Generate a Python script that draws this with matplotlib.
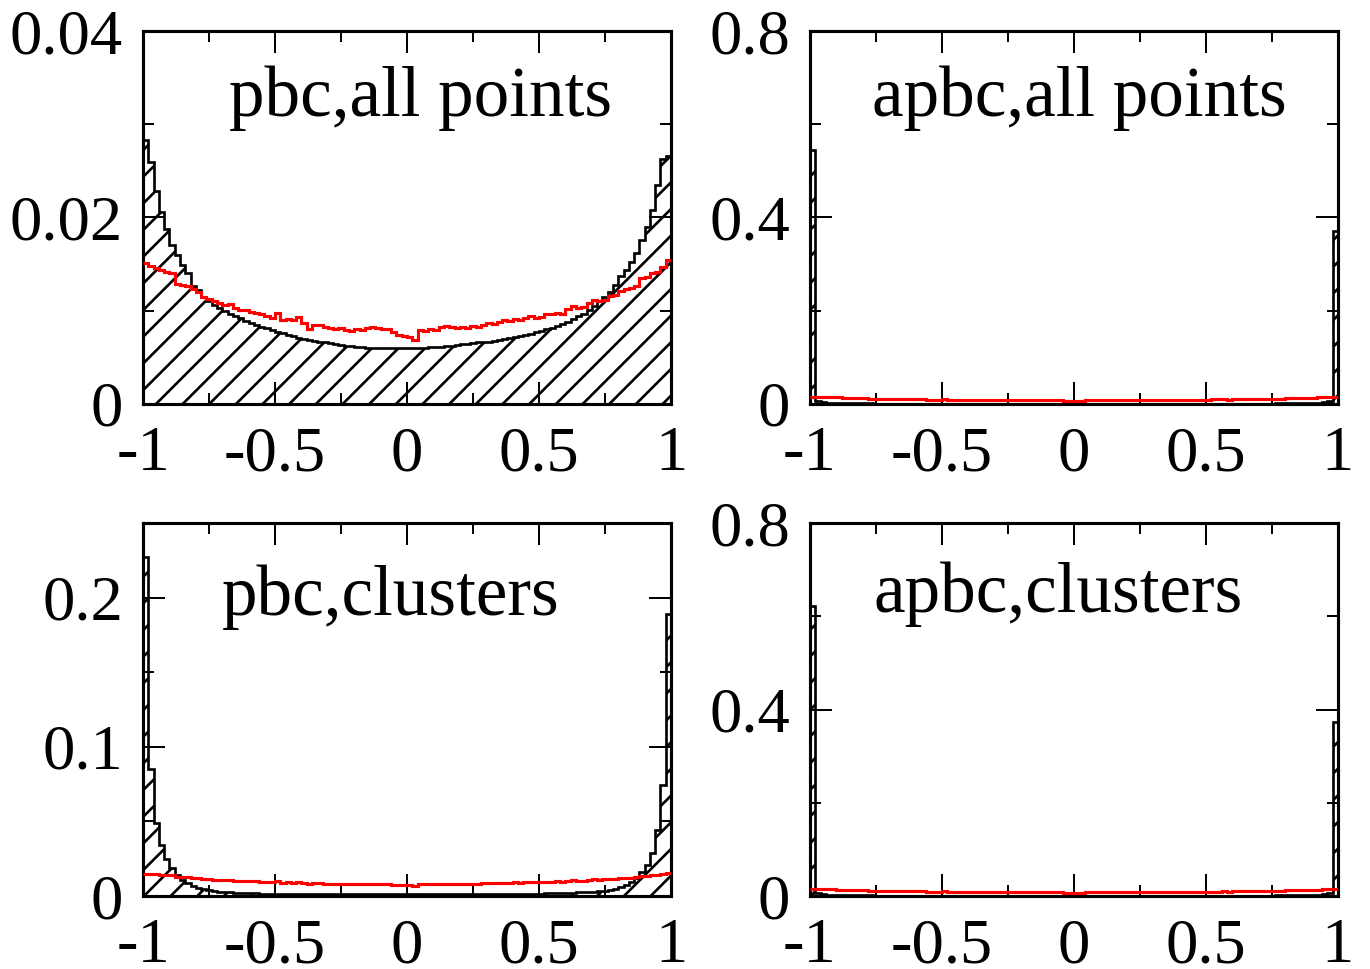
import numpy as np
import matplotlib
matplotlib.use("Agg")
import matplotlib.pyplot as plt
from matplotlib.ticker import MultipleLocator

# ---- data: 100 bins on [-1, 1] ----
bin_edges = np.linspace(-1, 1, 101)

pbc_all = [
    0.0283, 0.0259, 0.0228, 0.0206, 0.0188, 0.0171, 0.0160, 0.0149, 0.0140, 0.0126,
    0.0122, 0.0115, 0.0110, 0.0106, 0.0103, 0.0100, 0.0097, 0.0094, 0.0092, 0.0089,
    0.0087, 0.0085, 0.0083, 0.0081, 0.0079, 0.0077, 0.0076, 0.0074, 0.0073, 0.0071,
    0.0070, 0.0069, 0.0068, 0.0067, 0.0066, 0.0065, 0.0064, 0.0063, 0.0062, 0.0062,
    0.0061, 0.0061, 0.0060, 0.0060, 0.0060, 0.0060, 0.0060, 0.0060, 0.0060, 0.0060,
    0.0060, 0.0060, 0.0060, 0.0060, 0.0061, 0.0061, 0.0061, 0.0062, 0.0062, 0.0063,
    0.0064, 0.0064, 0.0065, 0.0066, 0.0066, 0.0067, 0.0068, 0.0069, 0.0070, 0.0071,
    0.0072, 0.0073, 0.0074, 0.0075, 0.0077, 0.0078, 0.0080, 0.0082, 0.0084, 0.0086,
    0.0088, 0.0091, 0.0094, 0.0097, 0.0101, 0.0105, 0.0110, 0.0115, 0.0120, 0.0128,
    0.0137, 0.0144, 0.0152, 0.0162, 0.0176, 0.0190, 0.0208, 0.0235, 0.0263, 0.0266,
]

# red reference curve (same in all panels)
red_ref = [
    0.0151, 0.0148, 0.0146, 0.0144, 0.0142, 0.0140, 0.0129, 0.0128, 0.0126, 0.0123,
    0.0120, 0.0115, 0.0113, 0.0110, 0.0108, 0.0106, 0.0107, 0.0103, 0.0101, 0.0101,
    0.0099, 0.0098, 0.0096, 0.0094, 0.0092, 0.0098, 0.0090, 0.0091, 0.0090, 0.0093,
    0.0087, 0.0080, 0.0085, 0.0085, 0.0083, 0.0082, 0.0080, 0.0081, 0.0079, 0.0078,
    0.0080, 0.0079, 0.0081, 0.0083, 0.0081, 0.0080, 0.0080, 0.0077, 0.0074, 0.0073,
    0.0072, 0.0069, 0.0079, 0.0078, 0.0080, 0.0079, 0.0083, 0.0084, 0.0083, 0.0082,
    0.0083, 0.0082, 0.0084, 0.0083, 0.0085, 0.0087, 0.0086, 0.0088, 0.0090, 0.0089,
    0.0091, 0.0090, 0.0092, 0.0094, 0.0092, 0.0093, 0.0097, 0.0097, 0.0098, 0.0096,
    0.0102, 0.0105, 0.0103, 0.0104, 0.0108, 0.0112, 0.0110, 0.0111, 0.0116, 0.0117,
    0.0121, 0.0123, 0.0124, 0.0126, 0.0135, 0.0136, 0.0140, 0.0142, 0.0147, 0.0154,
]

apbc_all = [
    0.545, 0.006, 0.004, 0.003, 0.003, 0.002, 0.002, 0.002, 0.002, 0.002,
    0.002, 0.002, 0.001, 0.001, 0.001, 0.001, 0.001, 0.001, 0.001, 0.001,
    0.001, 0.001, 0.001, 0.001, 0.001, 0.001, 0.001, 0.001, 0.001, 0.001,
    0.001, 0.001, 0.001, 0.001, 0.001, 0.001, 0.001, 0.001, 0.001, 0.001,
    0.001, 0.001, 0.001, 0.001, 0.001, 0.001, 0.001, 0.001, 0.001, 0.001,
    0.001, 0.001, 0.001, 0.001, 0.001, 0.001, 0.001, 0.001, 0.001, 0.001,
    0.001, 0.001, 0.001, 0.001, 0.001, 0.001, 0.001, 0.001, 0.001, 0.001,
    0.001, 0.001, 0.001, 0.001, 0.001, 0.001, 0.001, 0.001, 0.001, 0.001,
    0.001, 0.001, 0.001, 0.001, 0.001, 0.001, 0.001, 0.001, 0.002, 0.002,
    0.002, 0.002, 0.002, 0.002, 0.002, 0.003, 0.003, 0.004, 0.006, 0.370,
]

pbc_clusters = [
    0.227, 0.085, 0.049, 0.034, 0.025, 0.019, 0.014, 0.011, 0.0085, 0.007,
    0.0055, 0.0045, 0.004, 0.0035, 0.003, 0.0027, 0.0024, 0.0022, 0.002, 0.0019,
    0.0018, 0.0017, 0.0016, 0.0015, 0.0015, 0.0014, 0.0014, 0.0013, 0.0013, 0.0013,
    0.0012, 0.0012, 0.0012, 0.0012, 0.0012, 0.0012, 0.0012, 0.0012, 0.0012, 0.0012,
    0.0012, 0.0012, 0.0012, 0.0011, 0.0011, 0.0011, 0.0011, 0.0011, 0.0011, 0.0011,
    0.0011, 0.0011, 0.0011, 0.0011, 0.0011, 0.0011, 0.0011, 0.0012, 0.0012, 0.0012,
    0.0012, 0.0012, 0.0012, 0.0012, 0.0012, 0.0012, 0.0012, 0.0012, 0.0012, 0.0012,
    0.0013, 0.0013, 0.0014, 0.0014, 0.0015, 0.0016, 0.0017, 0.0018, 0.0019, 0.0020,
    0.0021, 0.0022, 0.0024, 0.0026, 0.0028, 0.0030, 0.0033, 0.0036, 0.0042, 0.0050,
    0.0060, 0.0075, 0.0095, 0.012, 0.0163, 0.021, 0.0286, 0.044, 0.0745, 0.189,
]

apbc_clusters = [
    0.622, 0.006, 0.004, 0.003, 0.003, 0.002, 0.002, 0.002, 0.002, 0.002,
    0.002, 0.002, 0.001, 0.001, 0.001, 0.001, 0.001, 0.001, 0.001, 0.001,
    0.001, 0.001, 0.001, 0.001, 0.001, 0.001, 0.001, 0.001, 0.001, 0.001,
    0.001, 0.001, 0.001, 0.001, 0.001, 0.001, 0.001, 0.001, 0.001, 0.001,
    0.001, 0.001, 0.001, 0.001, 0.001, 0.001, 0.001, 0.001, 0.001, 0.001,
    0.001, 0.001, 0.001, 0.001, 0.001, 0.001, 0.001, 0.001, 0.001, 0.001,
    0.001, 0.001, 0.001, 0.001, 0.001, 0.001, 0.001, 0.001, 0.001, 0.001,
    0.001, 0.001, 0.001, 0.001, 0.001, 0.001, 0.001, 0.001, 0.001, 0.001,
    0.001, 0.001, 0.001, 0.001, 0.001, 0.001, 0.001, 0.001, 0.002, 0.002,
    0.002, 0.002, 0.002, 0.002, 0.002, 0.003, 0.003, 0.004, 0.006, 0.373,
]

panel_titles = ["pbc,all points", "apbc,all points", "pbc,clusters", "apbc,clusters"]
panel_data = [pbc_all, apbc_all, pbc_clusters, apbc_clusters]
x_ticks = [-1, -0.5, 0, 0.5, 1]
x_labels = ["-1", "-0.5", "0", "0.5", "1"]
y_ticks = [[0, 0.02, 0.04], [0, 0.4, 0.8], [0, 0.1, 0.2], [0, 0.4, 0.8]]
y_labels = [["0", "0.02", "0.04"], ["0", "0.4", "0.8"], ["0", "0.1", "0.2"], ["0", "0.4", "0.8"]]
y_max = [0.04, 0.8, 0.25, 0.8]

# ---- style ----
plt.rcParams["font.family"] = ["Liberation Serif", "DejaVu Serif"]
plt.rcParams["axes.unicode_minus"] = False
plt.rcParams["hatch.linewidth"] = 1.2

DPI = 160
fig = plt.figure(figsize=(1370 / DPI, 969 / DPI), dpi=DPI)

# axes boxes in figure fraction
lefts = [0.1044, 0.5912, 0.1044, 0.5912]
bottoms = [0.5831, 0.5831, 0.0753, 0.0753]
w, h = 0.3854, 0.3849
title_pos = [(0.525, 0.82), (0.51, 0.82), (0.47, 0.80), (0.47, 0.81)]

for i in range(4):
    ax = fig.add_axes([lefts[i], bottoms[i], w, h])
    vals = panel_data[i]
    ax.stairs(vals, bin_edges, fill=True, facecolor="white", edgecolor="black",
              hatch="//", linewidth=0, zorder=1)
    ax.stairs(vals, bin_edges, color="black", linewidth=1.2, zorder=2)
    ax.stairs(red_ref, bin_edges, baseline=None, color="red", linewidth=1.4, zorder=3)

    ax.set_xlim(-1, 1)
    ax.set_ylim(0, y_max[i])
    ax.set_xticks(x_ticks)
    ax.set_xticklabels(x_labels)
    ax.set_yticks(y_ticks[i])
    ax.set_yticklabels(y_labels[i])
    ax.xaxis.set_minor_locator(MultipleLocator(0.25))
    ax.yaxis.set_minor_locator(MultipleLocator(y_ticks[i][1] / 2))
    ax.tick_params(which="both", direction="in", top=True, right=True,
                   labelsize=29, width=0.9)
    ax.tick_params(which="major", length=10)
    ax.tick_params(which="minor", length=5)
    ax.tick_params(axis="x", which="major", pad=10)
    ax.tick_params(axis="y", which="major", pad=9)
    for s in ax.spines.values():
        s.set_linewidth(1.4)

    ax.text(title_pos[i][0], title_pos[i][1], panel_titles[i], transform=ax.transAxes,
            ha="center", va="center", fontsize=32, zorder=5)

fig.savefig("out.png", dpi=DPI)
